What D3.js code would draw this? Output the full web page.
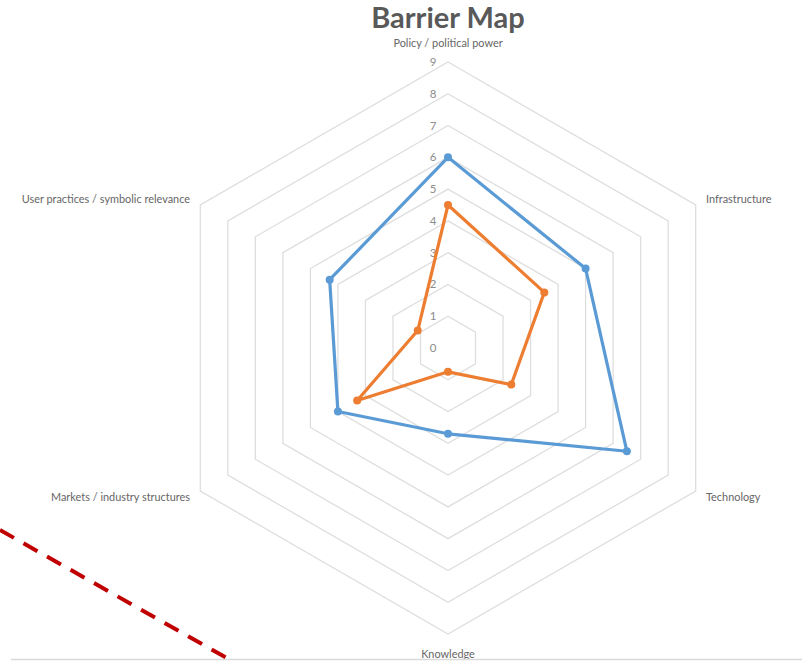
<!DOCTYPE html>
<html>
<head>
<meta charset="utf-8">
<script src="https://cdn.jsdelivr.net/npm/d3@7"></script>
<style>
  body { margin: 0; background: #fff; }
  text { font-family: Lato, "Open Sans", sans-serif; }
</style>
</head>
<body>
<script>
var axes = ['Policy / political power', 'Infrastructure', 'Technology', 'Knowledge',
            'Markets / industry structures', 'User practices / symbolic relevance'];
var seriesBlue = [6, 5, 6.5, 2.7, 4, 4.3];
var seriesOrange = [4.5, 3.5, 2.3, 0.75, 3.3, 1.1];
var ticks = [0, 1, 2, 3, 4, 5, 6, 7, 8, 9];

var width = 802, height = 661;
var cx = 448, cy = 348, maxR = 286;

var svg = d3.select('body').append('svg')
  .attr('width', width)
  .attr('height', height);

var r = d3.scaleLinear().domain([0, 9]).range([0, maxR]);
var angle = d3.scaleLinear().domain([0, axes.length]).range([0, 2 * Math.PI]);

function pt(i, v) {
  var a = angle(i) - Math.PI / 2;
  return [cx + r(v) * Math.cos(a), cy + r(v) * Math.sin(a)];
}

// title
svg.append('text')
  .attr('x', cx).attr('y', 28)
  .attr('text-anchor', 'middle')
  .attr('font-size', 29).attr('font-weight', 'bold')
  .attr('fill', '#595959')
  .text('Barrier Map');

// grid rings
var g = svg.append('g');
g.selectAll('polygon.ring').data(ticks.slice(1))
  .enter().append('polygon')
  .attr('class', 'ring')
  .attr('points', function(t) {
    return axes.map(function(a, i) { return pt(i, t).join(','); }).join(' ');
  })
  .attr('fill', 'none')
  .attr('stroke', '#dedede')
  .attr('stroke-width', 1.3);

// tick labels
g.selectAll('text.tick').data(ticks)
  .enter().append('text')
  .attr('class', 'tick')
  .attr('x', cx - 15)
  .attr('y', function(t) { return cy - r(t) + 4; })
  .attr('text-anchor', 'middle')
  .attr('font-size', 11.5)
  .attr('fill', '#8c8c8c')
  .text(function(t) { return t; });

// axis labels
var labelPos = [
  { x: cx, y: 47, anchor: 'middle' },
  { x: 706, y: 203, anchor: 'start' },
  { x: 706, y: 501, anchor: 'start' },
  { x: cx, y: 658, anchor: 'middle' },
  { x: 190, y: 501, anchor: 'end' },
  { x: 190, y: 203, anchor: 'end' }
];
g.selectAll('text.axis').data(axes)
  .enter().append('text')
  .attr('class', 'axis')
  .attr('x', function(d, i) { return labelPos[i].x; })
  .attr('y', function(d, i) { return labelPos[i].y; })
  .attr('text-anchor', function(d, i) { return labelPos[i].anchor; })
  .attr('font-size', 10.9)
  .attr('fill', '#666666')
  .text(function(d) { return d; });

// series
var line = d3.line().curve(d3.curveLinearClosed);
[{ v: seriesBlue, c: '#5B9BD5' }, { v: seriesOrange, c: '#ED7D31' }].forEach(function(s) {
  var pts = s.v.map(function(v, i) { return pt(i, v); });
  svg.append('path')
    .attr('d', line(pts))
    .attr('fill', 'none')
    .attr('stroke', s.c)
    .attr('stroke-width', 3.2)
    .attr('stroke-linejoin', 'round');
  svg.selectAll(null).data(pts)
    .enter().append('circle')
    .attr('cx', function(d) { return d[0]; })
    .attr('cy', function(d) { return d[1]; })
    .attr('r', 4)
    .attr('fill', s.c);
});

// bottom rule and red dashed annotation
svg.append('line')
  .attr('x1', 11).attr('y1', 659.5).attr('x2', 802).attr('y2', 659.5)
  .attr('stroke', '#d9d9d9').attr('stroke-width', 1.5);
svg.append('line')
  .attr('x1', 0).attr('y1', 530).attr('x2', 232).attr('y2', 661)
  .attr('stroke', '#C00000').attr('stroke-width', 4)
  .attr('stroke-dasharray', '16,11');
</script>
</body>
</html>
